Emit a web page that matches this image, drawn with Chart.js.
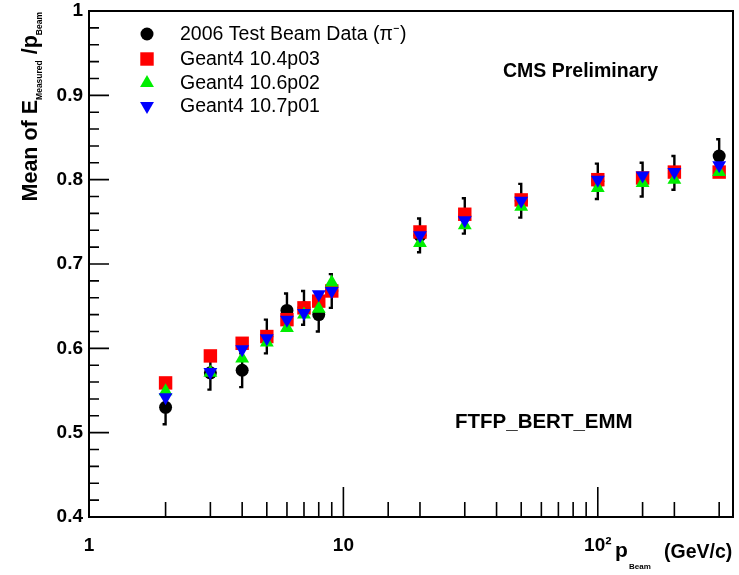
<!DOCTYPE html>
<html>
<head>
<meta charset="utf-8">
<script src="https://cdn.jsdelivr.net/npm/chart.js@4.4.0/dist/chart.umd.min.js"></script>
<style>
  html, body { margin: 0; padding: 0; background: #fff; }
  #wrap { width: 739px; height: 575px; position: relative; }
</style>
</head>
<body>
<div id="wrap"><canvas id="chartResponse"></canvas></div>
<script>
// beam momenta (GeV/c) and mean E_measured / p_beam
const beamMomenta = [2, 3, 4, 5, 6, 7, 8, 9, 20, 30, 50, 100, 150, 200, 300];
const testBeam2006 = [0.530, 0.571, 0.574, 0.614, 0.645, 0.648, 0.640, 0.668, 0.734, 0.757, 0.775, 0.798, 0.800, 0.808, 0.828];
const testBeamErr = [0.020, 0.020, 0.020, 0.020, 0.020, 0.020, 0.020, 0.020, 0.020, 0.021, 0.020, 0.021, 0.020, 0.020, 0.020];
const g4_104p03 = [0.559, 0.591, 0.606, 0.614, 0.634, 0.648, 0.656, 0.668, 0.738, 0.759, 0.776, 0.800, 0.802, 0.809, 0.809];
const g4_106p02 = [0.549, 0.571, 0.588, 0.607, 0.624, 0.640, 0.647, 0.678, 0.725, 0.746, 0.768, 0.790, 0.796, 0.800, 0.809];
const g4_107p01 = [0.542, 0.572, 0.599, 0.612, 0.634, 0.642, 0.664, 0.668, 0.734, 0.752, 0.775, 0.800, 0.805, 0.809, 0.817];
const seriesLabels = ['2006 Test Beam Data (\u03c0\u207b)', 'Geant4 10.4p03', 'Geant4 10.6p02', 'Geant4 10.7p01'];
const xDecadeLabels = { 1: '1', 10: '10', 100: '10\u00b2' };

const FONT = '"Liberation Sans", Arial, Helvetica, sans-serif';

function toPoints(vals) {
    return beamMomenta.map((p, i) => ({ x: p, y: vals[i] }));
}

function isDecade(v) {
    const l = Math.log10(v);
    return Math.abs(l - Math.round(l)) < 1e-9;
}

function isTenth(v) {
    return Math.abs(v * 10 - Math.round(v * 10)) < 1e-6;
}

const rootStyle = {
    id: 'rootStyle',
    beforeDatasetsDraw(chart) {
        // error bars for the test beam points
        const { ctx } = chart;
        const xs = chart.scales.x, ys = chart.scales.y;
        ctx.save();
        ctx.strokeStyle = '#000';
        ctx.lineWidth = 2.4;
        beamMomenta.forEach((p, i) => {
            const px = xs.getPixelForValue(p);
            const top = ys.getPixelForValue(testBeam2006[i] + testBeamErr[i]);
            const bot = ys.getPixelForValue(testBeam2006[i] - testBeamErr[i]);
            ctx.beginPath();
            ctx.moveTo(px - 3, top);
            ctx.lineTo(px, top);
            ctx.lineTo(px, bot);
            ctx.lineTo(px - 3, bot);
            ctx.stroke();
        });
        ctx.restore();
    },
    afterDraw(chart) {
        const { ctx, chartArea: a } = chart;
        const xs = chart.scales.x, ys = chart.scales.y;
        ctx.save();

        // frame
        ctx.strokeStyle = '#000';
        ctx.lineWidth = 2;
        ctx.strokeRect(a.left, a.top, a.right - a.left, a.bottom - a.top);

        // ticks pointing inward
        ctx.lineWidth = 1.6;
        ctx.beginPath();
        ys.ticks.forEach(t => {
            const py = ys.getPixelForValue(t.value);
            ctx.moveTo(a.left, py);
            ctx.lineTo(a.left + (isTenth(t.value) ? 20 : 10), py);
        });
        xs.ticks.forEach(t => {
            const px = xs.getPixelForValue(t.value);
            if (px <= a.left + 1 || px >= a.right - 1) return;
            ctx.moveTo(px, a.bottom);
            ctx.lineTo(px, a.bottom - (isDecade(t.value) ? 30 : 15));
        });
        ctx.stroke();

        // legend
        const rowsY = [34, 59, 83, 106];
        chart.data.datasets.forEach((ds, i) => {
            ctx.fillStyle = ds.backgroundColor;
            Chart.helpers.drawPoint(ctx, {
                pointStyle: ds.pointStyle,
                radius: ds.pointRadius,
                rotation: ds.rotation || 0,
                borderWidth: 0
            }, 147, rowsY[i]);
            ctx.fillStyle = '#000';
            ctx.font = '19.5px ' + FONT;
            ctx.textAlign = 'left';
            ctx.textBaseline = 'middle';
            ctx.fillText(ds.label, 180, rowsY[i] + 1);
        });

        // annotations
        ctx.font = 'bold 19.5px ' + FONT;
        ctx.textBaseline = 'alphabetic';
        ctx.fillText('CMS Preliminary', 503, 77);
        ctx.font = 'bold 20.5px ' + FONT;
        ctx.fillText('FTFP_BERT_EMM', 455, 428);

        // x axis title: p_Beam (GeV/c)
        ctx.font = 'bold 21px ' + FONT;
        ctx.fillText('p', 615, 557);
        ctx.font = 'bold 8px ' + FONT;
        ctx.fillText('Beam', 629, 569);
        ctx.font = 'bold 19.5px ' + FONT;
        ctx.fillText('(GeV/c)', 664, 558);

        // y axis title: Mean of E_Measured / p_Beam (rotated, top aligned)
        const parts = [
            { t: 'Mean of E', f: 'bold 21.5px ', dy: 0 },
            { t: 'Measured', f: 'bold 8.5px ', dy: 5 },
            { t: ' /p', f: 'bold 21.5px ', dy: 0 },
            { t: 'Beam', f: 'bold 8.5px ', dy: 5 }
        ];
        let total = 0;
        parts.forEach(pt => { ctx.font = pt.f + FONT; pt.w = ctx.measureText(pt.t).width; total += pt.w; });
        ctx.translate(37, 12 + total);
        ctx.rotate(-Math.PI / 2);
        let cx = 0;
        parts.forEach(pt => {
            ctx.font = pt.f + FONT;
            ctx.fillText(pt.t, cx, pt.dy);
            cx += pt.w;
        });
        ctx.restore();
    }
};

const datasets = [
    { label: seriesLabels[0], data: toPoints(testBeam2006), pointStyle: 'circle', pointRadius: 6.5, backgroundColor: '#000000', order: 4 },
    { label: seriesLabels[1], data: toPoints(g4_104p03), pointStyle: 'rect', pointRadius: 9.5, backgroundColor: '#ff0000', order: 3 },
    { label: seriesLabels[2], data: toPoints(g4_106p02), pointStyle: 'triangle', pointRadius: 8, backgroundColor: '#00ee00', order: 2 },
    { label: seriesLabels[3], data: toPoints(g4_107p01), pointStyle: 'triangle', pointRadius: 8, rotation: 180, backgroundColor: '#0000ff', order: 1 }
];
datasets.forEach(ds => {
    ds.borderWidth = 0;
    ds.pointBorderWidth = 0;
    ds.pointHoverRadius = ds.pointRadius;
    ds.showLine = false;
});

new Chart(document.getElementById('chartResponse'), {
    type: 'scatter',
    data: { datasets },
    options: {
        responsive: true,
        maintainAspectRatio: false,
        animation: false,
        events: [],
        layout: { autoPadding: false, padding: { top: 11, right: 6, left: 0, bottom: 0 } },
        plugins: { legend: { display: false }, tooltip: { enabled: false } },
        scales: {
            x: {
                type: 'logarithmic',
                min: 1,
                max: 340,
                grid: { display: false, drawTicks: false },
                border: { display: false },
                afterFit: s => { s.height = 58; s.paddingLeft = 0; s.paddingRight = 0; },
                ticks: {
                    autoSkip: false,
                    maxRotation: 0,
                    padding: 17,
                    color: '#000',
                    font: { family: FONT, size: 19, weight: 'bold' },
                    callback: v => (isDecade(v) && xDecadeLabels[Math.round(v)]) || ''
                }
            },
            y: {
                min: 0.4,
                max: 1,
                grid: { display: false, drawTicks: false },
                border: { display: false },
                afterFit: s => { s.width = 89; s.paddingTop = 0; s.paddingBottom = 0; },
                ticks: {
                    stepSize: 0.02,
                    autoSkip: false,
                    padding: 6,
                    color: '#000',
                    font: { family: FONT, size: 19, weight: 'bold' },
                    callback: v => isTenth(v) ? (Math.abs(v - 1) < 1e-6 ? '1' : v.toFixed(1)) : ''
                }
            }
        }
    },
    plugins: [rootStyle]
});
</script>
</body>
</html>
